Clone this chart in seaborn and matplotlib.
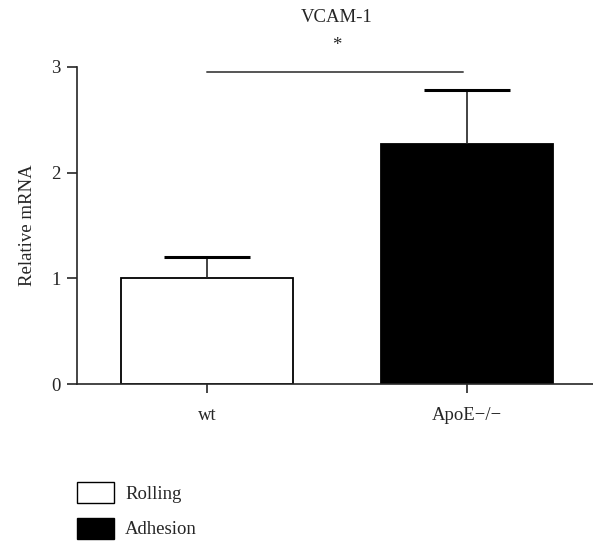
import pandas as pd
import numpy as np
import matplotlib
matplotlib.use("Agg")
import matplotlib.pyplot as plt
import matplotlib.patches as mpatches
import seaborn as sns

# ===============================
# Data
# ===============================
groups = ["wt", "ApoE\u2212/\u2212"]
conditions = ["Rolling", "Adhesion"]
means = [1.00, 2.27]
errors = [0.20, 0.51]
colors = ["white", "black"]

df = pd.DataFrame({"group": groups, "value": means, "condition": conditions})

# ===============================
# Plot
# ===============================
sns.set_theme(style="ticks")
plt.rcParams["font.family"] = ["Liberation Serif", "DejaVu Serif"]
fs = 13.5

fig = plt.figure(figsize=(5.93, 5.44), dpi=100)
ax = fig.add_axes([0.130, 0.294, 0.87, 0.583])

sns.barplot(data=df, x="group", y="value", hue="condition",
            palette=colors, dodge=False, width=0.665,
            edgecolor="black", linewidth=1.3, legend=False, ax=ax)

# one-sided error bars (upper only), Prism style
xpos = np.arange(len(groups))
tops = np.array(means) + np.array(errors)
ax.vlines(xpos, means, tops, color="#222222", lw=1.2, zorder=3)
ax.hlines(tops, xpos - 0.167, xpos + 0.167, color="black", lw=2.2, zorder=3)

ax.set_ylim(0, 3)
ax.set_xlim(-0.5, 1.485)
ax.set_yticks([0, 1, 2, 3])
ax.set_xlabel("")
ax.set_ylabel("Relative mRNA", fontsize=fs, labelpad=11)
ax.tick_params(axis="y", length=7, width=1.2, labelsize=fs, pad=5)
ax.tick_params(axis="x", length=6.5, width=1.2, labelsize=fs, pad=10)
for s in ["left", "bottom"]:
    ax.spines[s].set_linewidth(1.2)
sns.despine(ax=ax)

# significance line and star
ax.plot([0, 0.985], [2.95, 2.95], color="#555555", lw=1.4, clip_on=False)
ax.text(0.5, 3.20, "*", ha="center", va="center", fontsize=fs)
ax.text(0.5, 3.47, "VCAM-1", ha="center", va="center", fontsize=fs)

# legend below the plot
handles = [mpatches.Patch(facecolor=c, edgecolor="black", linewidth=1.0, label=l)
           for c, l in zip(colors, conditions)]
fig.legend(handles=handles, loc="upper left", bbox_to_anchor=(0.13, 0.114),
           frameon=False, fontsize=fs, handlelength=1.97, handleheight=1.35,
           labelspacing=0.78, handletextpad=0.6, borderpad=0, borderaxespad=0)

fig.savefig("out.png", dpi=100)
